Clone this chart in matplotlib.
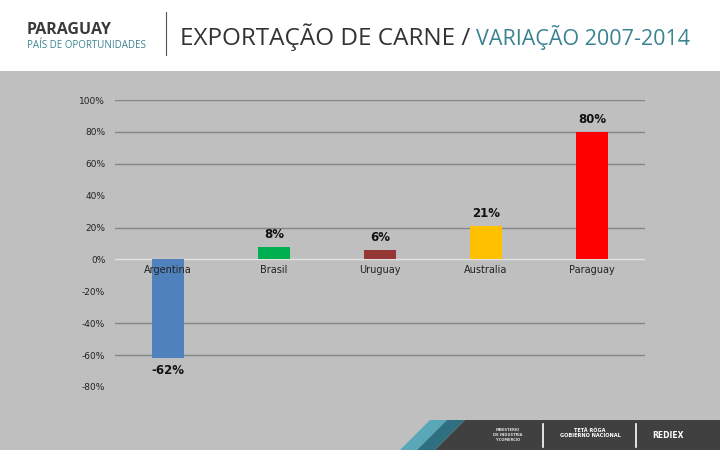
import matplotlib
matplotlib.use('Agg')
import matplotlib.pyplot as plt
from matplotlib.patches import Polygon, Rectangle
from matplotlib.lines import Line2D

paises = ['Argentina', 'Brasil', 'Uruguay', 'Australia', 'Paraguay']
variacao = [-62, 8, 6, 21, 80]
cores = ['#4f81bd', '#00b050', '#953735', '#ffc000', '#ff0000']
yticks = [100, 80, 60, 40, 20, 0, -20, -40, -60, -80]
grid_y = [100, 80, 60, 20, -40, -60]

teal = '#3b8391'
fundo = '#bfbfbf'

fig = plt.figure(figsize=(7.2, 4.5), dpi=100)
fig.patch.set_facecolor('white')

def px(x, y):
    return (x / 720, 1 - y / 450)

# gray panel and footer
fig.patches.append(Rectangle((0, 0), 1, 1 - 71/450, transform=fig.transFigure,
                             facecolor=fundo, edgecolor='none', zorder=-2))
fig.patches.append(Polygon([px(400, 450), px(430, 420), px(447, 420), px(417, 450)],
                           closed=True, transform=fig.transFigure,
                           facecolor='#5aa7b8', edgecolor='none', zorder=-1))
fig.patches.append(Polygon([px(417, 450), px(447, 420), px(465, 420), px(435, 450)],
                           closed=True, transform=fig.transFigure,
                           facecolor='#2e6f80', edgecolor='none', zorder=-1))
fig.patches.append(Polygon([px(435, 450), px(465, 420), px(720, 420), px(720, 450)],
                           closed=True, transform=fig.transFigure,
                           facecolor='#404040', edgecolor='none', zorder=-1))
for xs in [543, 636]:
    fig.add_artist(Line2D([xs/720, xs/720], [1-424/450, 1-447/450],
                          transform=fig.transFigure, color='white', lw=1.2))
fig.text(508/720, 1-435/450, 'MINISTERIO\nDE INDUSTRIA\nY COMERCIO', color='#dddddd',
         fontsize=2.6, ha='center', va='center', fontweight='bold')
fig.text(590/720, 1-433/450, 'TETÃ RÓGA\nGOBIERNO NACIONAL', color='white',
         fontsize=3.6, ha='center', va='center', fontweight='bold')
fig.text(668/720, 1-435/450, 'REDIEX', color='white', fontsize=5.5,
         ha='center', va='center', fontweight='bold')

# header
fig.text(27/720, 1-30/450, 'PARAGUAY', color='#3a3a3a', fontsize=11.5,
         fontweight='bold', va='center', family='Open Sans')
fig.text(27/720, 1-45/450, 'PAÍS DE OPORTUNIDADES', color=teal, fontsize=7,
         va='center', family='Open Sans')
fig.add_artist(Line2D([166/720, 166/720], [1-12/450, 1-55/450],
                      transform=fig.transFigure, color='#555555', lw=0.8))
t1 = fig.text(180/720, 1-37/450, 'EXPORTAÇÃO DE CARNE / ', color='#333333',
              fontsize=17.5, va='center', family='Open Sans')
fig.canvas.draw()
bb = t1.get_window_extent()
fig.text(bb.x1 / 720, 1-37/450, 'VARIAÇÃO 2007-2014', color=teal,
         fontsize=15.5, va='center', family='Open Sans')

# chart
ax = fig.add_axes([115/720, 1-387/450, 530/720, 287/450])
ax.set_zorder(3)
ax.set_facecolor('none')
x = list(range(len(paises)))
bars = ax.bar(x, variacao, width=0.31, color=cores, zorder=3)
ax.set_xlim(-0.5, len(paises) - 0.5)
ax.set_ylim(-80, 100)
for g in grid_y:
    ax.axhline(g, color='#858585', lw=1, zorder=1)
ax.axhline(0, color='#e2e2e2', lw=1, zorder=2)

ax.set_yticks(yticks)
ax.set_yticklabels(['%d%%' % v for v in yticks], fontsize=6.5, color='#222222')
ax.tick_params(axis='y', length=0, pad=7)
ax.set_xticks([])
for s in ax.spines.values():
    s.set_visible(False)

for xi, nome in zip(x, paises):
    ax.text(xi, -3.5, nome, ha='center', va='top', fontsize=7, color='#222222', zorder=4)

for xi, v in zip(x, variacao):
    if v >= 0:
        ax.annotate('%d%%' % v, (xi, v), xytext=(0, 4), textcoords='offset points',
                    ha='center', va='bottom', fontsize=8.5, fontweight='bold', color='#111111')
    else:
        ax.annotate('%d%%' % v, (xi, v), xytext=(0, -4), textcoords='offset points',
                    ha='center', va='top', fontsize=8.5, fontweight='bold', color='#111111')

fig.savefig('out.png', dpi=100)
